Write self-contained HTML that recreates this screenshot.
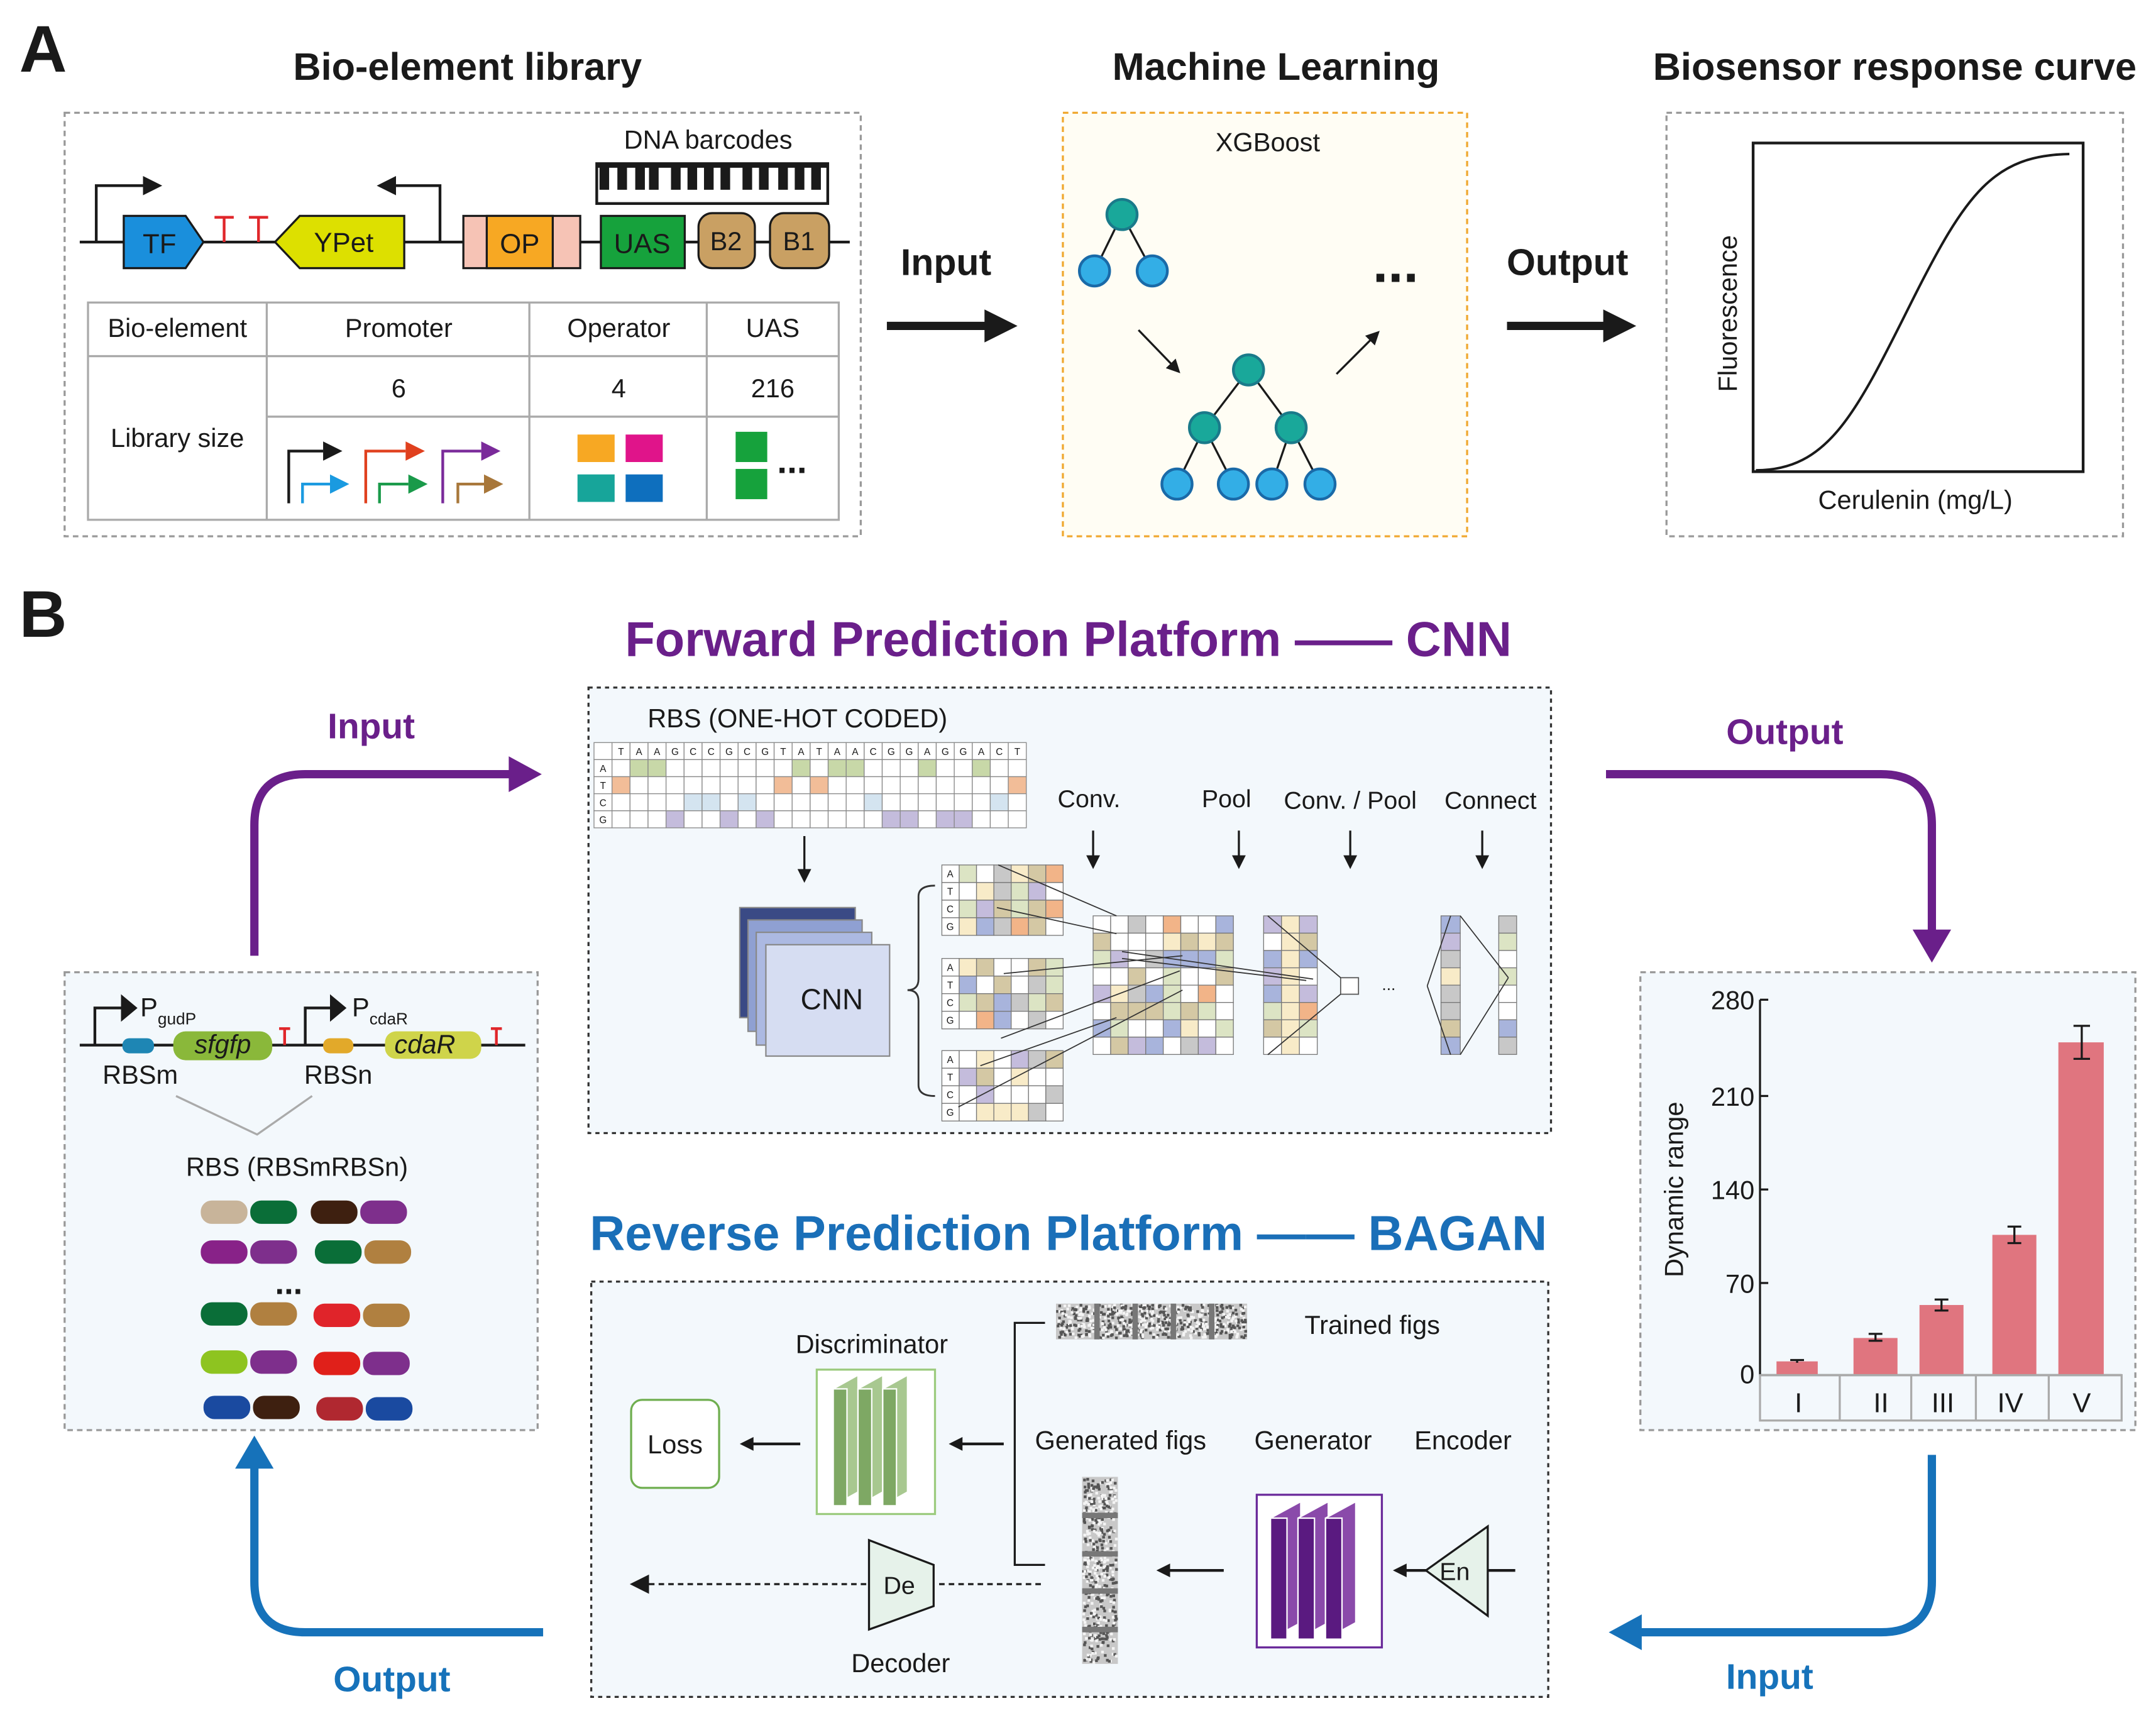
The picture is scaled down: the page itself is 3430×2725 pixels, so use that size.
<!DOCTYPE html>
<html><head><meta charset="utf-8"><style>
html,body{margin:0;padding:0;background:#fff}
svg{display:block}
text{font-family:"Liberation Sans",Arial,sans-serif;fill:#1a1a1a}
</style></head><body>
<svg id="s" width="3430" height="2725" viewBox="0 0 1568 1245.7" preserveAspectRatio="none" xmlns="http://www.w3.org/2000/svg">
<defs>
<marker id="ab" markerWidth="10" markerHeight="10" refX="8" refY="5" orient="auto" markerUnits="userSpaceOnUse"><path d="M0,0 L10,5 L0,10z" fill="#1a1a1a"/></marker>
</defs>
<!-- Panel A -->
<text x="14" y="52" font-size="48" font-weight="bold">A</text>
<text x="340" y="58" font-size="28" font-weight="bold" text-anchor="middle">Bio-element library</text>
<text x="928" y="58" font-size="28" font-weight="bold" text-anchor="middle">Machine Learning</text>
<text x="1378" y="58" font-size="28" font-weight="bold" text-anchor="middle">Biosensor response curve</text>

<rect x="47" y="82" width="579" height="308" fill="#fff" stroke="#999" stroke-dasharray="4,3" stroke-width="1.5"/>
<line x1="58" y1="176" x2="618" y2="176" stroke="#1a1a1a" stroke-width="2"/>
<path d="M70,176 V135 H110" fill="none" stroke="#1a1a1a" stroke-width="2"/>
<path d="M104,128 L118,135 L104,142z" fill="#1a1a1a"/>
<path d="M90,157 H135 L148,176 L135,195 H90z" fill="#1a8fdc" stroke="#1a1a1a" stroke-width="1.5"/>
<text x="116" y="184" font-size="20" text-anchor="middle">TF</text>
<path d="M156,158 H170 M163,158 V176 M181,158 H195 M188,158 V176" stroke="#e0262a" stroke-width="2"/>
<path d="M320,176 V135 H282" fill="none" stroke="#1a1a1a" stroke-width="2"/>
<path d="M288,128 L274,135 L288,142z" fill="#1a1a1a"/>
<path d="M200,176 L218,157 H294 V195 H218z" fill="#dde000" stroke="#1a1a1a" stroke-width="1.5"/>
<text x="250" y="183" font-size="20" text-anchor="middle">YPet</text>
<rect x="337" y="157" width="85" height="38" fill="#f6c3b5" stroke="#1a1a1a" stroke-width="1.5"/>
<rect x="354" y="157" width="48" height="38" fill="#f7a823" stroke="#1a1a1a" stroke-width="1.5"/>
<text x="378" y="184" font-size="20" text-anchor="middle">OP</text>
<rect x="437" y="157" width="61" height="38" fill="#16a23c" stroke="#1a1a1a" stroke-width="1.5"/>
<text x="467" y="184" font-size="20" text-anchor="middle">UAS</text>
<rect x="508" y="155" width="41" height="40" rx="10" fill="#c9a063" stroke="#1a1a1a" stroke-width="1.5"/>
<text x="528" y="182" font-size="19" text-anchor="middle">B2</text>
<rect x="560" y="155" width="43" height="40" rx="10" fill="#c9a063" stroke="#1a1a1a" stroke-width="1.5"/>
<text x="581" y="182" font-size="19" text-anchor="middle">B1</text>
<text x="515" y="108" font-size="19" text-anchor="middle">DNA barcodes</text>
<g id="barcode"></g>
<g stroke="#aaa" stroke-width="1.5" fill="none">
<rect x="64" y="220" width="546" height="158"/>
<line x1="194" y1="220" x2="194" y2="378"/><line x1="385" y1="220" x2="385" y2="378"/><line x1="514" y1="220" x2="514" y2="378"/>
<line x1="64" y1="259" x2="610" y2="259"/><line x1="194" y1="303" x2="610" y2="303"/>
</g>
<g font-size="19" text-anchor="middle">
<text x="129" y="245" font-size="19">Bio-element</text><text x="290" y="245">Promoter</text><text x="450" y="245">Operator</text><text x="562" y="245">UAS</text>
<text x="290" y="289">6</text><text x="450" y="289">4</text><text x="562" y="289">216</text>
<text x="129" y="325">Library size</text>
</g>
<g id="proms"></g>
<rect x="420" y="316" width="27" height="20" fill="#f7a823"/><rect x="455" y="316" width="27" height="20" fill="#e0148a"/>
<rect x="420" y="345" width="27" height="20" fill="#17a59a"/><rect x="455" y="345" width="27" height="20" fill="#0e6fbe"/>
<rect x="535" y="314" width="23" height="22" fill="#16a23c"/><rect x="535" y="341" width="23" height="22" fill="#16a23c"/>
<text x="576" y="344" font-size="26" text-anchor="middle" font-weight="bold">...</text>

<text x="688" y="200" font-size="27" font-weight="bold" text-anchor="middle">Input</text>
<line x1="645" y1="237" x2="722" y2="237" stroke="#1a1a1a" stroke-width="6"/>
<path d="M716,225 L740,237 L716,249z" fill="#1a1a1a"/>
<text x="1140" y="200" font-size="27" font-weight="bold" text-anchor="middle">Output</text>
<line x1="1096" y1="237" x2="1172" y2="237" stroke="#1a1a1a" stroke-width="6"/>
<path d="M1166,225 L1190,237 L1166,249z" fill="#1a1a1a"/>

<rect x="773" y="82" width="294" height="308" fill="#fffdf4" stroke="#f0a830" stroke-dasharray="4,3" stroke-width="1.5"/>
<text x="922" y="110" font-size="19" text-anchor="middle">XGBoost</text>
<g stroke="#1a1a1a" stroke-width="1.5">
<line x1="816" y1="156" x2="796" y2="197"/><line x1="816" y1="156" x2="838" y2="197"/>
<line x1="908" y1="269" x2="876" y2="311"/><line x1="908" y1="269" x2="939" y2="311"/>
<line x1="876" y1="311" x2="856" y2="352"/><line x1="876" y1="311" x2="897" y2="352"/>
<line x1="939" y1="311" x2="925" y2="352"/><line x1="939" y1="311" x2="960" y2="352"/>
<line x1="828" y1="240" x2="857" y2="270" marker-end="url(#ab)"/>
<line x1="972" y1="272" x2="1002" y2="242" marker-end="url(#ab)"/>
</g>
<g stroke="#1a7a8a" stroke-width="2" fill="#19a89a">
<circle cx="816" cy="156" r="11"/><circle cx="908" cy="269" r="11"/><circle cx="876" cy="311" r="11"/><circle cx="939" cy="311" r="11"/>
</g>
<g stroke="#1a6aa8" stroke-width="2" fill="#33aee6">
<circle cx="796" cy="197" r="11"/><circle cx="838" cy="197" r="11"/>
<circle cx="856" cy="352" r="11"/><circle cx="897" cy="352" r="11"/><circle cx="925" cy="352" r="11"/><circle cx="960" cy="352" r="11"/>
</g>
<text x="1015" y="205" font-size="40" font-weight="bold" text-anchor="middle">...</text>

<rect x="1212" y="82" width="332" height="308" fill="#fff" stroke="#999" stroke-dasharray="4,3" stroke-width="1.5"/>
<rect x="1275" y="104" width="240" height="239" fill="none" stroke="#1a1a1a" stroke-width="2"/>
<path d="M1277,342 C1330,342 1350,300 1390,220 C1430,140 1450,113 1505,112" fill="none" stroke="#1a1a1a" stroke-width="1.8"/>
<text transform="translate(1263,228) rotate(-90)" font-size="19" text-anchor="middle">Fluorescence</text>
<text x="1393" y="370" font-size="19" text-anchor="middle">Cerulenin  (mg/L)</text>

<!-- Panel B -->
<text x="14" y="463" font-size="48" font-weight="bold">B</text>
<text x="777" y="477" font-size="35.5" font-weight="bold" text-anchor="middle" style="fill:#6a1f8a">Forward Prediction Platform —— CNN</text>
<text x="777" y="909" font-size="35.5" font-weight="bold" text-anchor="middle" style="fill:#1a6fb8">Reverse Prediction Platform —— BAGAN</text>

<g fill="none" stroke-width="6">
<path d="M185,695 V600 Q185,563 222,563 H375" stroke="#6a1f8a"/>
<path d="M1168,563 H1368 Q1405,563 1405,600 V680" stroke="#6a1f8a"/>
<path d="M1405,1058 V1150 Q1405,1187 1368,1187 H1190" stroke="#1672ba"/>
<path d="M395,1187 H222 Q185,1187 185,1150 V1062" stroke="#1672ba"/>
</g>
<path d="M370,550 L394,563 L370,576z" fill="#6a1f8a"/>
<path d="M1391,676 L1405,700 L1419,676z" fill="#6a1f8a"/>
<path d="M1194,1174 L1170,1187 L1194,1200z" fill="#1672ba"/>
<path d="M171,1068 L185,1044 L199,1068z" fill="#1672ba"/>
<text x="270" y="537" font-size="26" font-weight="bold" text-anchor="middle" style="fill:#6a1f8a">Input</text>
<text x="1298" y="541" font-size="26" font-weight="bold" text-anchor="middle" style="fill:#6a1f8a">Output</text>
<text x="1287" y="1228" font-size="26" font-weight="bold" text-anchor="middle" style="fill:#1672ba">Input</text>
<text x="285" y="1230" font-size="26" font-weight="bold" text-anchor="middle" style="fill:#1672ba">Output</text>

<rect x="47" y="707" width="344" height="333" fill="#f3f8fc" stroke="#999" stroke-dasharray="4,3" stroke-width="1.5"/>
<line x1="58" y1="760" x2="382" y2="760" stroke="#1a1a1a" stroke-width="2"/>
<path d="M69,760 V733 H88" fill="none" stroke="#1a1a1a" stroke-width="2"/>
<path d="M88,723 L100,733 L88,743z" fill="#1a1a1a"/>
<text x="102" y="739" font-size="19">P<tspan font-size="12" dy="6">gudP</tspan></text>
<rect x="89" y="755" width="23" height="11" rx="5" fill="#1e86b4"/>
<rect x="126" y="750" width="72" height="21" rx="9" fill="#8ab83a"/>
<text x="162" y="766" font-size="19" font-style="italic" text-anchor="middle">sfgfp</text>
<path d="M203,748 H211 M207,748 V760" stroke="#e0262a" stroke-width="2"/>
<path d="M222,760 V733 H240" fill="none" stroke="#1a1a1a" stroke-width="2"/>
<path d="M240,723 L252,733 L240,743z" fill="#1a1a1a"/>
<text x="256" y="739" font-size="19">P<tspan font-size="12" dy="6">cdaR</tspan></text>
<rect x="235" y="755" width="22" height="11" rx="5" fill="#e2a92a"/>
<rect x="280" y="750" width="70" height="20" rx="8" fill="#cfd44a"/>
<text x="309" y="766" font-size="19" font-style="italic" text-anchor="middle">cdaR</text>
<path d="M357,748 H365 M361,748 V760" stroke="#e0262a" stroke-width="2"/>
<text x="102" y="788" font-size="19" text-anchor="middle">RBSm</text>
<text x="246" y="788" font-size="19" text-anchor="middle">RBSn</text>
<path d="M128,797 L187,825 L227,797" fill="none" stroke="#aaa" stroke-width="1.5"/>
<text x="216" y="855" font-size="19" text-anchor="middle">RBS (RBSmRBSn)</text>
<g id="pills"></g>
<text x="210" y="941" font-size="24" font-weight="bold" text-anchor="middle">...</text>

<rect x="428" y="500" width="700" height="324" fill="#f3f8fc" stroke="#333" stroke-dasharray="3,3" stroke-width="1.5"/>
<text x="580" y="529" font-size="19" text-anchor="middle">RBS (ONE-HOT CODED)</text>
<g id="onehot"></g>
<g font-size="18" text-anchor="middle">
<text x="792" y="587">Conv.</text><text x="892" y="587">Pool</text><text x="982" y="588">Conv. / Pool</text><text x="1084" y="588">Connect</text>
</g>
<g stroke="#1a1a1a" stroke-width="1.5">
<line x1="585" y1="608" x2="585" y2="640" marker-end="url(#ab)"/>
<line x1="795" y1="604" x2="795" y2="630" marker-end="url(#ab)"/>
<line x1="901" y1="604" x2="901" y2="630" marker-end="url(#ab)"/>
<line x1="982" y1="604" x2="982" y2="630" marker-end="url(#ab)"/>
<line x1="1078" y1="604" x2="1078" y2="630" marker-end="url(#ab)"/>
</g>
<rect x="538" y="660" width="84" height="80" fill="#3a4a85" stroke="#888"/>
<rect x="544" y="669" width="83" height="81" fill="#8fa0d2" stroke="#888"/>
<rect x="550" y="678" width="84" height="82" fill="#acb9e2" stroke="#888"/>
<rect x="557" y="687" width="90" height="81" fill="#d6ddf2" stroke="#888"/>
<text x="605" y="734" font-size="21" text-anchor="middle">CNN</text>
<path d="M680,644 Q668,644 668,652 V712 Q668,720 660,720 Q668,720 668,728 V789 Q668,797 680,797" fill="none" stroke="#333" stroke-width="1.3"/>
<g id="cnnnet"></g>
<text x="1010" y="720" font-size="12" text-anchor="middle">...</text>

<rect x="430" y="932" width="696" height="302" fill="#f3f8fc" stroke="#333" stroke-dasharray="3,3" stroke-width="1.5"/>
<g id="noise"></g>
<text x="998" y="970" font-size="19" text-anchor="middle">Trained figs</text>
<path d="M760,962 H738 V1138 H760" fill="none" stroke="#1a1a1a" stroke-width="1.5"/>
<text x="634" y="984" font-size="19" text-anchor="middle">Discriminator</text>
<rect x="594" y="996" width="86" height="105" fill="#fff" stroke="#9ccb7e" stroke-width="1.5"/>
<g id="disc"></g>
<rect x="459" y="1018" width="64" height="64" rx="8" fill="#fff" stroke="#6fae4f" stroke-width="1.5"/>
<text x="491" y="1057" font-size="19" text-anchor="middle">Loss</text>
<g stroke="#1a1a1a" stroke-width="2">
<line x1="730" y1="1050" x2="692" y2="1050" marker-end="url(#ab)"/>
<line x1="582" y1="1050" x2="540" y2="1050" marker-end="url(#ab)"/>
<line x1="890" y1="1142" x2="843" y2="1142" marker-end="url(#ab)"/>
<line x1="1102" y1="1142" x2="1015" y2="1142" marker-end="url(#ab)"/>
</g>
<text x="815" y="1054" font-size="19" text-anchor="middle">Generated figs</text>
<text x="955" y="1054" font-size="19" text-anchor="middle">Generator</text>
<text x="1064" y="1054" font-size="19" text-anchor="middle">Encoder</text>
<rect x="914" y="1087" width="91" height="111" fill="#fff" stroke="#6a2a9a" stroke-width="1.5"/>
<g id="gen"></g>
<path d="M1037,1142 L1082,1110 V1175z" fill="#e6f2ea" stroke="#1a1a1a" stroke-width="1.5"/>
<text x="1058" y="1149" font-size="18" text-anchor="middle">En</text>
<path d="M632,1120 L679,1138 V1168 L632,1185z" fill="#e6f2ea" stroke="#1a1a1a" stroke-width="1.5"/>
<text x="654" y="1159" font-size="18" text-anchor="middle">De</text>
<line x1="757" y1="1152" x2="682" y2="1152" stroke="#1a1a1a" stroke-width="1.5" stroke-dasharray="4,3"/>
<line x1="630" y1="1152" x2="472" y2="1152" stroke="#1a1a1a" stroke-width="1.5" stroke-dasharray="4,3"/>
<path d="M472,1145 L458,1152 L472,1159z" fill="#1a1a1a"/>
<text x="655" y="1216" font-size="19" text-anchor="middle">Decoder</text>
<g id="genfig"></g>

<rect x="1193" y="707" width="360" height="333" fill="#f3f8fc" stroke="#999" stroke-dasharray="4,3" stroke-width="1.5"/>
<g stroke="#1a1a1a" stroke-width="1.5">
<line x1="1280" y1="727" x2="1280" y2="1000"/>
<line x1="1280" y1="1000" x2="1543" y2="1000"/>
<line x1="1280" y1="727" x2="1286" y2="727"/><line x1="1280" y1="797" x2="1286" y2="797"/><line x1="1280" y1="865" x2="1286" y2="865"/><line x1="1280" y1="933" x2="1286" y2="933"/>
</g>
<g font-size="19" text-anchor="end">
<text x="1276" y="734">280</text><text x="1276" y="804">210</text><text x="1276" y="872">140</text><text x="1276" y="940">70</text><text x="1276" y="1006">0</text>
</g>
<text transform="translate(1224,865) rotate(-90)" font-size="19" text-anchor="middle">Dynamic range</text>
<g fill="#e0757f">
<rect x="1292" y="990" width="30" height="10"/><rect x="1348" y="973" width="32" height="27"/><rect x="1396" y="949" width="32" height="51"/><rect x="1449" y="898" width="32" height="102"/><rect x="1497" y="758" width="33" height="242"/>
</g>
<g stroke="#1a1a1a" stroke-width="1.5">
<path d="M1364,970 V975 M1359,970 H1369 M1359,975 H1369"/>
<path d="M1412,945 V953 M1407,945 H1417 M1407,953 H1417"/>
<path d="M1465,892 V904 M1460,892 H1470 M1460,904 H1470"/>
<path d="M1514,746 V770 M1508,746 H1520 M1508,770 H1520"/>
<path d="M1307,989 V991 M1302,989 H1312"/>
</g>
<g stroke="#aaa" stroke-width="1.5" fill="none">
<rect x="1280" y="1000" width="263" height="33"/>
<line x1="1338" y1="1000" x2="1338" y2="1033"/><line x1="1390" y1="1000" x2="1390" y2="1033"/><line x1="1437" y1="1000" x2="1437" y2="1033"/><line x1="1490" y1="1000" x2="1490" y2="1033"/>
</g>
<g font-size="20" text-anchor="middle">
<text x="1308" y="1027">I</text><text x="1368" y="1027">II</text><text x="1413" y="1027">III</text><text x="1462" y="1027">IV</text><text x="1514" y="1027">V</text>
</g>
</svg>
<script>
var NS="http://www.w3.org/2000/svg";
function el(p,t,a){var e=document.createElementNS(NS,t);for(var k in a)e.setAttribute(k,a[k]);document.getElementById(p).appendChild(e);return e;}
el("barcode","rect",{x:434,y:119,width:168,height:29,fill:"#fff",stroke:"#1a1a1a","stroke-width":2});
var bx=[436,449,462,472,488,500,512,524,540,552,566,578,590];
for(var i=0;i<bx.length;i++) el("barcode","rect",{x:bx[i],y:120,width:7,height:18,fill:"#1a1a1a"});
el("barcode","rect",{x:434,y:119,width:168,height:3,fill:"#1a1a1a"});
var pc=[["#1a1a1a",210,328,235],["#e0401e",266,328,295],["#7a2a9a",322,328,350],["#1a9ae0",220,352,240],["#1a9a4a",276,352,297],["#a8773a",333,352,352]];
pc.forEach(function(p){var base=366;el("proms","path",{d:"M"+p[1]+","+base+" V"+p[2]+" H"+p[3],fill:"none",stroke:p[0],"stroke-width":2});
el("proms","path",{d:"M"+p[3]+","+(p[2]-7)+" L"+(p[3]+14)+","+p[2]+" L"+p[3]+","+(p[2]+7)+"z",fill:p[0]});});
var pl=[[146,881,"#c8b49a","#0a6e38"],[226,881,"#3e2010","#7e2f8c"],[146,910,"#882288","#7e2f8c"],[229,910,"#0a6e38","#b08040"],[146,955,"#0a6e38","#b08040"],[228,956,"#e0242a","#b08040"],[146,990,"#8ec420","#7e2f8c"],[228,991,"#e0201a","#7e2f8c"],[148,1023,"#1a4aa0","#3e2010"],[230,1024,"#b02830","#1a4aa0"]];
pl.forEach(function(p){el("pills","rect",{x:p[0],y:p[1]-8,width:34,height:17,rx:8,fill:p[2]});el("pills","rect",{x:p[0]+36,y:p[1]-8,width:34,height:17,rx:8,fill:p[3]});});
var seq="TAAGCCGCGTATAACGGAGGACTT".split("").slice(0,23);
var ox=432,oy=540,cw=13.1,ch=12.4,rowsL=["","A","T","C","G"];
var cols={A:"#c8d8a8",T:"#f2bd98",C:"#d4e4f0",G:"#c4bcdc"};
for(var r=0;r<5;r++)for(var c=0;c<24;c++){var f="#fff";
 if(r>0&&c>0){var b=seq[c-1];if(b===rowsL[r])f=cols[b];}
 el("onehot","rect",{x:ox+c*cw,y:oy+r*ch,width:cw,height:ch,fill:f,stroke:"#888","stroke-width":0.6});
 var t=null;if(r==0&&c>0)t=seq[c-1];if(c==0&&r>0)t=rowsL[r];
 if(t){var tx=el("onehot","text",{x:ox+c*cw+cw/2,y:oy+r*ch+9,"font-size":7,"text-anchor":"middle"});tx.textContent=t;}}
var pal=["#fff","#fff","#fff","#f8ebc8","#d4c8a4","#c8c8c8","#f2b488","#a8b4dc","#c4bcdc","#dce4c4"];
function rnd(i){var x=Math.sin(i*12.9898)*43758.5453;return x-Math.floor(x);}
var k=1;
[629,697,764].forEach(function(y0){for(var r=0;r<4;r++)for(var c=0;c<7;c++){var f=c==0?"#fff":pal[Math.floor(rnd(k++)*pal.length)];
 el("cnnnet","rect",{x:685+c*12.6,y:y0+r*12.8,width:12.6,height:12.8,fill:f,stroke:"#777","stroke-width":0.6});
 if(c==0){var t=el("cnnnet","text",{x:691,y:y0+r*12.8+9,"font-size":7,"text-anchor":"middle"});t.textContent="ATCG"[r];}}});
for(var r=0;r<8;r++)for(var c=0;c<8;c++)el("cnnnet","rect",{x:795+c*12.75,y:666+r*12.6,width:12.75,height:12.6,fill:pal[Math.floor(rnd(k++)*pal.length)],stroke:"#777","stroke-width":0.6});
for(var r=0;r<8;r++)for(var c=0;c<3;c++)el("cnnnet","rect",{x:919+c*13,y:666+r*12.6,width:13,height:12.6,fill:c==1?"#f8ebc8":pal[Math.floor(rnd(k++)*pal.length)],stroke:"#777","stroke-width":0.6});
for(var r=0;r<8;r++){el("cnnnet","rect",{x:1048,y:666+r*12.6,width:14,height:12.6,fill:pal[Math.floor(rnd(k++)*pal.length)],stroke:"#777","stroke-width":0.6});
 el("cnnnet","rect",{x:1090,y:666+r*12.6,width:13,height:12.6,fill:pal[Math.floor(rnd(k++)*pal.length)],stroke:"#777","stroke-width":0.6});}
el("cnnnet","rect",{x:975,y:711,width:13,height:12,fill:"#fff",stroke:"#555","stroke-width":0.8});
var ln=[[726,629,812,666],[725,660,812,679],[730,708,860,695],[728,755,858,706],[713,775,812,740],[697,805,860,720],[816,692,955,712],[816,697,950,713],[922,666,975,711],[922,767,975,723],[1055,666,1038,717],[1055,767,1038,717],[1062,666,1097,711],[1062,767,1097,711]];
ln.forEach(function(l){el("cnnnet","line",{x1:l[0],y1:l[1],x2:l[2],y2:l[3],stroke:"#333","stroke-width":0.8});});
el("noise","rect",{x:768,y:948,width:139,height:26,fill:"#c8c8c8"});
for(var i=0;i<700;i++)el("noise","rect",{x:768+rnd(i+500)*137,y:948+rnd(i+1500)*24,width:2,height:2,fill:rnd(i+3000)>0.5?"#555":"#f4f4f4"});
for(var j=1;j<5;j++)el("noise","rect",{x:768+j*27.8,y:948,width:4,height:26,fill:"#777"});
el("genfig","rect",{x:787,y:1074,width:26,height:136,fill:"#c8c8c8"});
for(var i=0;i<500;i++)el("genfig","rect",{x:787+rnd(i+7000)*24,y:1074+rnd(i+8000)*134,width:2,height:2,fill:rnd(i+9000)>0.5?"#555":"#f4f4f4"});
[1100,1128,1155,1183].forEach(function(y){el("genfig","rect",{x:787,y:y,width:26,height:4,fill:"#777"});});
for(var i=0;i<3;i++){var x=606+i*18;el("disc","path",{d:"M"+x+",1010 L"+(x+18)+",1000 V1085 L"+x+",1095z",fill:"#a8c890",stroke:"#fff","stroke-width":1});
 el("disc","rect",{x:x,y:1010,width:10,height:85,fill:"#7ea864",stroke:"#fff","stroke-width":1});}
for(var i=0;i<3;i++){var x=924+i*20;el("gen","path",{d:"M"+x+",1104 L"+(x+22)+",1092 V1180 L"+x+",1192z",fill:"#8a4aaa",stroke:"#fff","stroke-width":1});
 el("gen","rect",{x:x,y:1104,width:12,height:88,fill:"#5a1a80",stroke:"#fff","stroke-width":1});}
</script>
</body></html>
